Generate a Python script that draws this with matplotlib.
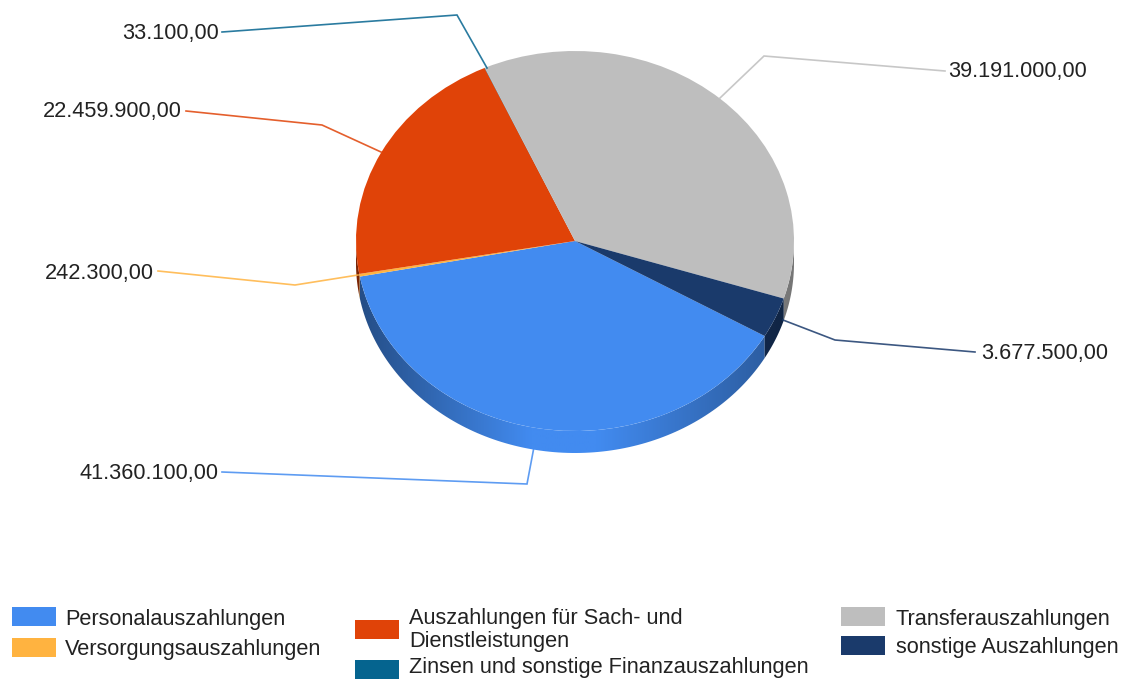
import numpy as np
import matplotlib
matplotlib.use("Agg")
import matplotlib.pyplot as plt
from matplotlib.patches import Polygon, Rectangle

categories = ["Personalauszahlungen", "Versorgungsauszahlungen",
              "Auszahlungen für Sach- und\nDienstleistungen",
              "Zinsen und sonstige Finanzauszahlungen",
              "Transferauszahlungen", "sonstige Auszahlungen"]
values = [41360100, 242300, 22459900, 33100, 39191000, 3677500]
value_labels = ["41.360.100,00", "242.300,00", "22.459.900,00",
                "33.100,00", "39.191.000,00", "3.677.500,00"]
colors = ["#428bf0", "#ffb340", "#e04308", "#05648f", "#bebebe", "#1a3a6b"]

W, H = 1126, 680
CX, CY, RX, RY = 575, 241, 219, 190
DEPTH = 22 / RY
START = -30
FS = 15.7

# leader lines in pixels, same order as categories
leaders = [[(222, 472), (527, 484), (537, 431)],
           [(158, 271), (295, 285), (358, 275)],
           [(186, 111), (322, 125), (381, 152)],
           [(222, 32), (457, 15), (487, 68)],
           [(945, 71), (764, 56), (720, 98)],
           [(975, 352), (835, 340), (783, 320)]]
label_pos = [(218, 474, "right"), (154, 274, "right"), (182, 112, "right"),
             (219, 33, "right"), (948, 72, "left"), (981, 353, "left")]
swatches = [(12, 607), (12, 638), (355, 620), (355, 660), (841, 607), (841, 636)]
legend_text = [(65, 620), (65, 649), (409, 630), (409, 668), (896, 620), (896, 648)]

plt.rcParams["font.family"] = ["Liberation Sans", "DejaVu Sans"]
fig = plt.figure(figsize=(W / 100, H / 100), dpi=100)
ax = fig.add_axes([0, 0, 1, 1])


def shade(hex_color, x):
    # dark at the rim ends, full colour near the front
    rgb = np.array(matplotlib.colors.to_rgb(hex_color))
    f = np.interp(x, [-1, -0.2, 0.1, 1], [0.55, 1.0, 1.0, 0.62])
    return f[..., None] * rgb


wedges, _ = ax.pie(values, colors=colors, startangle=START, counterclock=False,
                   radius=1, wedgeprops={"linewidth": 0, "zorder": 5})
ax.set_aspect("auto")

# side band of the tilted pie
grad = np.linspace(-1, 1, 400)[None, :]
for w, c in zip(wedges, colors):
    a0, a1 = sorted([w.theta1, w.theta2])
    # keep only the front half, where angles fall in 180..360
    for shift in (-360, 0, 360, 720):
        lo = max(a0 + shift, 180)
        hi = min(a1 + shift, 360)
        if hi <= lo:
            continue
        t = np.radians(np.linspace(lo, hi, 120))
        top = np.column_stack([np.cos(t), np.sin(t)])
        low = top[::-1] - [0, DEPTH]
        band = Polygon(np.vstack([top, low]), transform=ax.transData)
        im = ax.imshow(shade(c, grad), extent=(-1, 1, -1.3, 1.3), aspect="auto",
                       zorder=2, interpolation="bilinear")
        im.set_clip_path(band)

ax.set_xlim(-CX / RX, (W - CX) / RX)
ax.set_ylim((CY - H) / RY, CY / RY)
ax.set_axis_off()

# overlay in pixel coordinates for leaders and legend
ov = fig.add_axes([0, 0, 1, 1], facecolor="none")
ov.set_xlim(0, W)
ov.set_ylim(H, 0)
ov.set_axis_off()

for pts, c in zip(leaders, colors):
    px, py = zip(*pts)
    ov.plot(px, py, color=c, lw=1.2, alpha=0.85, solid_joinstyle="miter")
for (x, y, ha), txt in zip(label_pos, value_labels):
    ov.text(x, y, txt, ha=ha, va="center", fontsize=FS, color="#222222")

for (x, y), c in zip(swatches, colors):
    ov.add_patch(Rectangle((x, y), 44, 19, facecolor=c, edgecolor="none"))
for (x, y), txt in zip(legend_text, categories):
    ov.text(x, y, txt, ha="left", va="center", fontsize=FS, color="#222222",
            linespacing=1.15)

fig.savefig("out.png", dpi=100)
